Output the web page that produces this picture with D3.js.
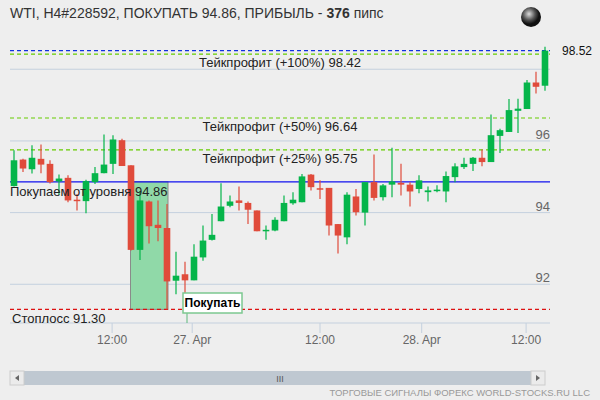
<!DOCTYPE html>
<html><head><meta charset="utf-8">
<script src="https://cdn.jsdelivr.net/npm/d3@7"></script>
<style>body{margin:0;background:#eeeeee}svg{font-family:"Liberation Sans",Arial,sans-serif}</style>
</head><body><svg width="600" height="400"></svg>
<script>
// OHLC per bar
var opens  = [94.74,95.48,95.21,95.50,95.36,94.87,94.97,94.36,94.32,94.85,95.10,95.36,96.02,95.32,92.96,94.31,93.66,93.57,92.10,92.28,
              92.11,92.75,93.24,93.76,94.19,94.34,94.27,94.06,93.48,93.50,93.76,94.26,94.29,95.06,94.68,94.69,93.68,93.31,94.45,94.00,
              94.85,94.43,94.78,94.83,94.78,94.66,94.57,94.60,94.59,94.99,95.27,95.36,95.53,95.41,96.14,96.25,96.84,96.89,97.63,97.54];
var highs  = [95.74,95.50,95.88,95.90,95.46,95.06,95.04,94.52,94.92,95.27,96.18,96.16,96.06,95.32,94.60,94.34,94.34,94.24,92.91,92.63,
              93.12,93.64,93.96,94.82,94.48,94.73,94.31,94.06,93.64,93.87,94.48,94.57,95.08,95.08,94.90,94.69,93.68,94.57,94.66,94.85,
              95.62,94.80,95.81,95.36,94.85,95.04,94.73,94.76,95.15,95.38,95.53,95.55,95.76,96.74,96.34,97.17,97.18,97.70,97.93,98.63];
var lows   = [94.73,95.13,95.09,95.10,94.81,94.50,94.29,94.06,93.98,94.80,95.10,95.08,95.30,92.94,92.68,93.14,93.20,91.30,91.72,91.59,
              92.11,92.66,93.22,93.76,94.15,94.06,93.68,93.48,93.24,93.48,93.76,94.22,94.29,94.62,94.38,93.36,92.86,93.12,93.92,93.64,
              94.34,94.34,94.43,94.48,94.17,94.54,94.31,94.57,94.29,94.85,95.22,95.16,95.29,95.41,95.66,96.25,96.22,96.89,97.32,97.40];
var closes = [95.46,95.23,95.53,95.34,94.85,94.95,94.34,94.32,94.88,95.10,95.34,96.04,95.30,92.96,94.34,93.62,93.57,92.08,92.24,92.11,
              92.77,93.22,93.38,94.17,94.31,94.27,94.08,93.48,93.52,93.80,94.27,94.36,95.01,94.71,94.65,93.64,93.36,94.50,94.01,94.85,
              94.41,94.76,94.87,94.78,94.59,94.90,94.62,94.64,95.02,95.29,95.36,95.53,95.41,96.16,96.30,96.86,96.90,97.63,97.51,98.52];

var yTicks = [92, 94, 96, 98];
var xTickBars = [10.9, 19.8, 34, 45.3, 56.9];
var xTickLabels = ["12:00", "27. Apr", "12:00", "28. Apr", "12:00"];

// signal levels
var entry = 94.86, stop = 91.30, last = 98.52;
var targets = [98.42, 96.64, 95.75];
var targetNames = ["Тейкпрофит (+100%) 98.42", "Тейкпрофит (+50%) 96.64", "Тейкпрофит (+25%) 95.75"];
var entryBars = [13, 17], buyBar = 19;

var svg = d3.select("svg");
var L = 10, R = 550, T = 42, B = 323;
var x = d3.scaleLinear().domain([0, 59]).range([14, 545]);
var y = d3.scaleLinear().domain([90.92, 98.76]).range([B, T]);

// grid
svg.append("g").selectAll("line").data(yTicks).join("line")
  .attr("x1", L).attr("x2", R).attr("y1", d => y(d)).attr("y2", d => y(d))
  .attr("stroke", "#c4d0de");
svg.append("g").selectAll("text").data(yTicks.filter(d => d != 98)).join("text")
  .attr("x", 550).attr("y", d => y(d) - 2).attr("text-anchor", "end")
  .attr("font-size", 13).attr("fill", "#666").text(d => d);

// x axis
svg.append("line").attr("x1", L).attr("x2", R).attr("y1", B).attr("y2", B).attr("stroke", "#c4d0de");
var xt = svg.append("g").selectAll("g").data(xTickBars).join("g");
xt.append("line").attr("x1", d => x(d)).attr("x2", d => x(d)).attr("y1", B).attr("y2", B + 10).attr("stroke", "#c4d0de");
xt.append("text").attr("x", d => x(d)).attr("y", 344).attr("text-anchor", "middle")
  .attr("font-size", 12).attr("fill", "#666").text((d, i) => xTickLabels[i]);

// entry zone
svg.append("rect")
  .attr("x", x(entryBars[0]) - 0.5).attr("width", x(entryBars[1]) - x(entryBars[0]) + 1.5)
  .attr("y", y(entry)).attr("height", y(stop) - y(entry))
  .attr("fill", "#90d9a8").attr("stroke", "#8a8a8a");

// level lines
function level(v, color, dash) {
  svg.append("line").attr("x1", L).attr("x2", R).attr("y1", y(v)).attr("y2", y(v))
    .attr("stroke", color).attr("stroke-width", 1.2).attr("stroke-dasharray", dash);
}
level(last, "#1030e0", "4,3");
targets.forEach(v => level(v, "#66cc00", "4,3"));
level(entry, "#1010ee", null);
level(stop, "#dd1111", "4,3");

// candles
var idx = d3.range(opens.length);
var up = i => closes[i] >= opens[i];
var c = svg.append("g").selectAll("g").data(idx).join("g")
  .attr("fill", i => up(i) ? "#05b54a" : "#e04b3b")
  .attr("stroke", i => up(i) ? "#05b54a" : "#e04b3b");
c.append("line").attr("x1", i => x(i)).attr("x2", i => x(i))
  .attr("y1", i => y(highs[i])).attr("y2", i => y(lows[i])).attr("stroke-width", 1.2);
c.append("rect").attr("x", i => x(i) - 3.3).attr("width", 6.6).attr("stroke", "none")
  .attr("y", i => y(Math.max(opens[i], closes[i])))
  .attr("height", i => Math.max(1.5, Math.abs(y(opens[i]) - y(closes[i]))));

// level labels
svg.append("g").selectAll("text").data(targets).join("text")
  .attr("x", 280).attr("y", d => y(d) + 13).attr("text-anchor", "middle")
  .attr("font-size", 13).attr("fill", "#222").text((d, i) => targetNames[i]);
svg.append("text").attr("x", 10).attr("y", y(entry) + 14).attr("font-size", 13).attr("fill", "#222")
  .text("Покупаем от уровня " + entry.toFixed(2));
svg.append("text").attr("x", 12).attr("y", y(stop) + 14).attr("font-size", 13).attr("fill", "#222")
  .text("Стоплосс " + stop.toFixed(2));
svg.append("text").attr("x", 562).attr("y", y(last) + 4).attr("font-size", 12).attr("fill", "#111").text(last);

// buy flag
var fx = x(buyBar) + 2;
svg.append("line").attr("x1", fx).attr("x2", fx).attr("y1", 313).attr("y2", B).attr("stroke", "#5cb87a");
svg.append("rect").attr("x", fx - 4).attr("y", 293).attr("width", 59).attr("height", 20)
  .attr("fill", "#fff").attr("stroke", "#7cc890").attr("stroke-width", 1.5);
svg.append("text").attr("x", fx + 25.5).attr("y", 307).attr("text-anchor", "middle")
  .attr("font-size", 12).attr("font-weight", "bold").attr("fill", "#000").text("Покупать");

// title
var t = svg.append("text").attr("x", 10).attr("y", 18).attr("font-size", 14).attr("fill", "#333");
t.append("tspan").text("WTI, H4#228592, ПОКУПАТЬ " + entry + ", ПРИБЫЛЬ - ");
t.append("tspan").attr("font-weight", "bold").text("376");
t.append("tspan").text(" пипс");

// globe
var grad = svg.append("defs").append("radialGradient").attr("id", "gl").attr("cx", "40%").attr("cy", "35%");
grad.append("stop").attr("offset", "0%").attr("stop-color", "#ddd");
grad.append("stop").attr("offset", "60%").attr("stop-color", "#555");
grad.append("stop").attr("offset", "100%").attr("stop-color", "#111");
svg.append("circle").attr("cx", 531).attr("cy", 17).attr("r", 10).attr("fill", "url(#gl)");

// scrollbar
svg.append("rect").attr("x", 10).attr("y", 371).attr("width", 535).attr("height", 14).attr("fill", "#bfc8d1");
[10, 531].forEach(function (bx, k) {
  svg.append("rect").attr("x", bx).attr("y", 371).attr("width", 14).attr("height", 14)
    .attr("fill", "#ebebeb").attr("stroke", "#ccc");
  svg.append("path").attr("fill", "#666")
    .attr("d", k ? "M" + (bx + 5) + ",375 l4,3 l-4,3z" : "M" + (bx + 9) + ",375 l-4,3 l4,3z");
});
svg.append("text").attr("x", 280).attr("y", 382).attr("text-anchor", "middle").attr("font-size", 9).attr("fill", "#555").text("III");
svg.append("text").attr("x", 590).attr("y", 396).attr("text-anchor", "end").attr("font-size", 9.5).attr("fill", "#999")
  .text("ТОРГОВЫЕ СИГНАЛЫ ФОРЕКС WORLD-STOCKS.RU LLC");
</script></body></html>
